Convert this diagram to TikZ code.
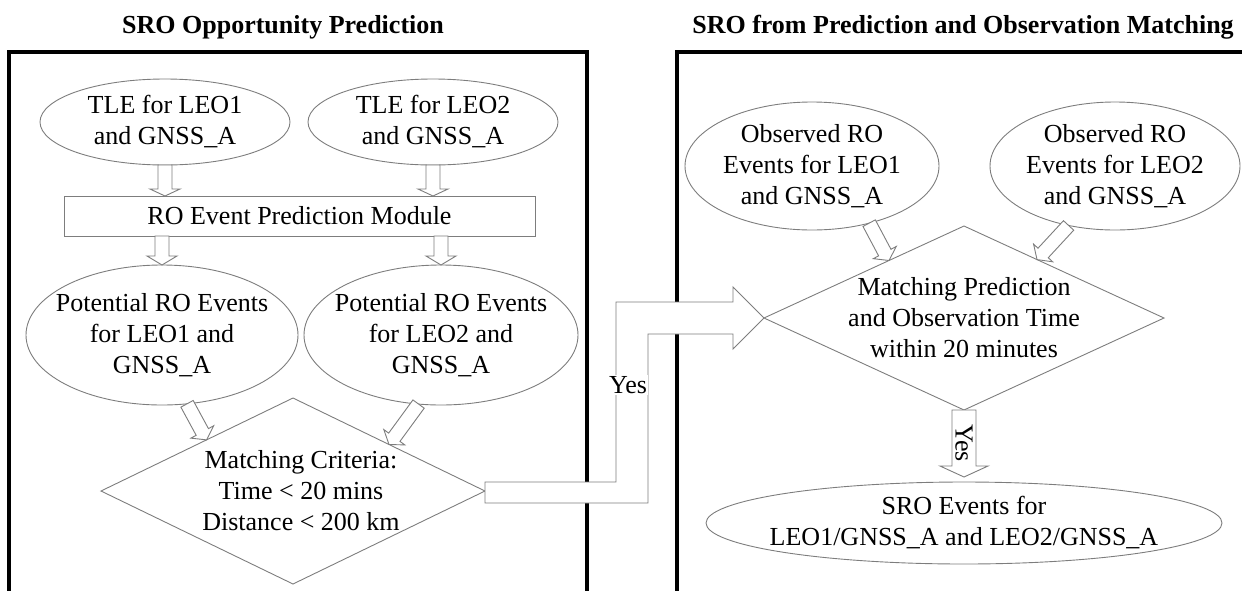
\documentclass[tikz,border=0pt]{standalone}
\usepackage{fontspec}
\setmainfont{Liberation Serif}
\usetikzlibrary{shapes.geometric,calc}
\definecolor{edge}{RGB}{125,125,125}
\tikzset{
  oval/.style={ellipse, draw=edge, line width=0.9pt, inner sep=0pt, outer sep=0pt},
  choice/.style={diamond, draw=edge, line width=0.9pt, inner sep=0pt, outer sep=0pt},
  modbox/.style={rectangle, draw=edge, line width=0.9pt, inner sep=0pt, outer sep=0pt},
  txt/.style={align=center, inner sep=0pt, font=\fontsize{26pt}{31pt}\selectfont},
  ttl/.style={inner sep=0pt, font=\fontsize{26pt}{31pt}\selectfont\bfseries},
  blk/.style={draw=edge, fill=white, line width=0.9pt, line join=miter},
  frame/.style={draw=black, line width=3.2pt, line join=miter},
}
% hollow block arrow: {from}{to}{shaft half width}{head half width}{head length}
\newcommand\hollowarrow[5]{%
  \coordinate (ha-a) at (#1);
  \coordinate (ha-b) at (#2);
  \coordinate (ha-h) at ($(ha-b)!#5!(ha-a)$);
  \draw[blk] ($(ha-a)!#3!90:(ha-b)$) -- ($(ha-h)!#3!-90:(ha-a)$)
    -- ($(ha-h)!#4!-90:(ha-a)$) -- (ha-b) -- ($(ha-h)!#4!90:(ha-a)$)
    -- ($(ha-h)!#3!90:(ha-a)$) -- ($(ha-a)!#3!-90:(ha-b)$) -- cycle;}
\begin{document}
\begin{tikzpicture}[x=1pt,y=-1pt]
\useasboundingbox (0,0) rectangle (1242,590);
\clip (0,0) rectangle (1242,590);

% panel titles and frames
\node[ttl] (t1) at (283,27) {SRO Opportunity Prediction};
\node[ttl] (t2) at (963,27) {SRO from Prediction and Observation Matching};
\draw[frame] (9,600) -- (9,52) -- (587,52) -- (587,600);
\draw[frame] (677,600) -- (677,52) -- (1260,52) -- (1260,600);

% shapes of the left panel
\node[oval, minimum width=250pt, minimum height=86pt] (tle1) at (165,122) {};
\node[oval, minimum width=250pt, minimum height=86pt] (tle2) at (433,122) {};
\node[modbox, minimum width=471pt, minimum height=40pt] (pm) at (299.5,216) {};
\node[oval, minimum width=272pt, minimum height=140pt] (pot1) at (162,335) {};
\node[oval, minimum width=274pt, minimum height=140pt] (pot2) at (441,335) {};
\node[choice, minimum width=384pt, minimum height=186pt] (d1) at (293,491) {};

% shapes of the right panel
\node[oval, minimum width=254pt, minimum height=128pt] (obs1) at (812,166) {};
\node[oval, minimum width=250pt, minimum height=128pt] (obs2) at (1115,166) {};
\node[choice, minimum width=400pt, minimum height=184pt] (d2) at (964,318) {};
\node[oval, minimum width=516pt, minimum height=82pt] (fin) at (964,523) {};

% block arrows of the left panel
\hollowarrow{tle1.south}{tle1.south |- pm.north}{7pt}{15pt}{7pt}
\hollowarrow{tle2.south}{tle2.south |- pm.north}{7pt}{15pt}{7pt}
\hollowarrow{pm.south -| pot1.north}{pot1.north}{7pt}{15pt}{9pt}
\hollowarrow{pm.south -| pot2.north}{pot2.north}{7pt}{15pt}{9pt}
\hollowarrow{pot1.-70}{$(d1.west)!0.55!(d1.north)$}{7pt}{13pt}{9pt}
\hollowarrow{pot2.-108}{$(d1.north)!0.5!(d1.east)$}{7pt}{13pt}{9pt}

% block arrows of the right panel
\hollowarrow{obs1.-45}{$(d2.west)!0.625!(d2.north)$}{7pt}{13pt}{9pt}
\hollowarrow{obs2.-128}{$(d2.north)!0.365!(d2.east)$}{7pt}{13pt}{9pt}
\hollowarrow{d2.south}{$(fin.north)+(0,-5)$}{12pt}{24pt}{11pt}

% the Yes arrow joining the two panels
\draw[blk] ($(d1.east)+(0,-9)$) -| ($(d2.west)+(-148,-16)$)
  -- ($(d2.west)+(-31,-16)$) -- ($(d2.west)+(-31,-31)$) -- (d2.west)
  -- ($(d2.west)+(-31,31)$) -- ($(d2.west)+(-31,16)$)
  -- ($(d2.west)+(-116,16)$) |- ($(d1.east)+(0,12)$) -- cycle;

% texts
\node[txt] (tle1t) at (tle1.center) {TLE for LEO1\\and GNSS\_A};
\node[txt] (tle2t) at (tle2.center) {TLE for LEO2\\and GNSS\_A};
\node[txt] (pmt) at (pm.center) {RO Event Prediction Module};
\node[txt] (pot1t) at (pot1.center) {Potential RO Events\\for LEO1 and\\GNSS\_A};
\node[txt] (pot2t) at (pot2.center) {Potential RO Events\\for LEO2 and\\GNSS\_A};
\node[txt] (d1t) at ($(d1.center)+(8,0)$) {Matching Criteria:\\Time < 20 mins\\Distance < 200 km};
\node[txt] (obs1t) at (obs1.center) {Observed RO\\Events for LEO1\\and GNSS\_A};
\node[txt] (obs2t) at (obs2.center) {Observed RO\\Events for LEO2\\and GNSS\_A};
\node[txt] (d2t) at (d2.center) {Matching Prediction\\and Observation Time\\within 20 minutes};
\node[txt] (fint) at (fin.center) {SRO Events for\\LEO1/GNSS\_A and LEO2/GNSS\_A};
\node[txt, fill=white, inner sep=1pt] (yes1) at (628,385) {Yes};
\node[txt, rotate=-90] (yes2) at (964,443) {Yes};
\end{tikzpicture}
\end{document}
